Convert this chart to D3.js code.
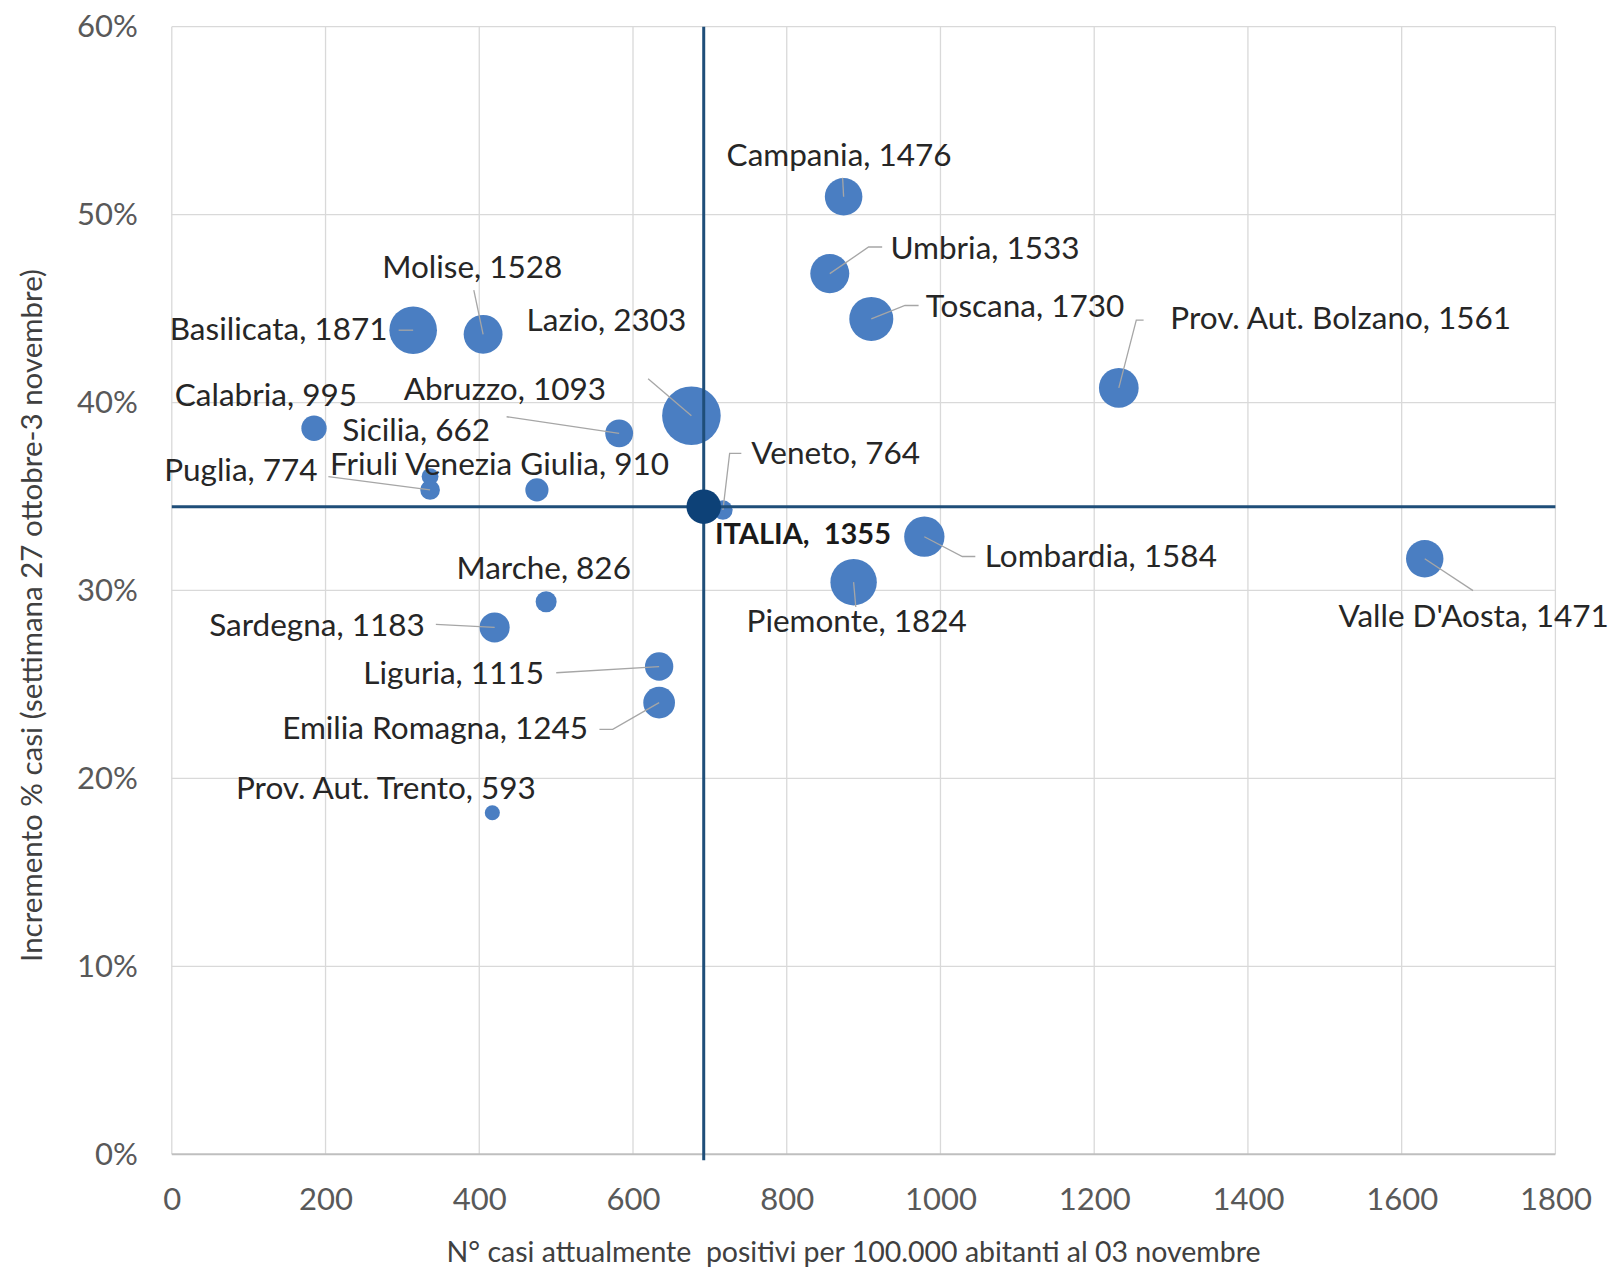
<!DOCTYPE html>
<html>
<head>
<meta charset="utf-8">
<script src="https://cdn.jsdelivr.net/npm/d3@7"></script>
<style>
  html, body { margin: 0; padding: 0; background: #ffffff; }
  svg { display: block; }
  text { font-family: Lato, "Open Sans", sans-serif; }
</style>
</head>
<body>
<svg id="chart" width="1613" height="1269"></svg>
<script>
// ---------------- DATA ----------------
const regions = [
  "Campania", "Umbria", "Toscana", "Prov. Aut. Bolzano", "Basilicata", "Molise",
  "Lazio", "Calabria", "Abruzzo", "Sicilia", "Puglia", "Friuli Venezia Giulia",
  "Veneto", "Lombardia", "Piemonte", "Valle D'Aosta", "Marche", "Sardegna",
  "Liguria", "Emilia Romagna", "Prov. Aut. Trento"
];
// N° casi attualmente positivi per 100.000 abitanti al 03 novembre
const positivesPer100k = [
  874, 856, 910, 1232, 314, 405,
  676, 185, 582, 336, 336, 475,
  717, 979, 887, 1630, 487, 420,
  634, 634, 417
];
// Incremento % casi (settimana 27 ottobre - 3 novembre)
const weeklyIncrease = [
  0.5095, 0.4686, 0.4445, 0.4078, 0.4385, 0.4363,
  0.3930, 0.3863, 0.3836, 0.3606, 0.3535, 0.3535,
  0.3428, 0.3286, 0.3044, 0.3169, 0.2940, 0.2803,
  0.2595, 0.2403, 0.1817
];
// bubble size values (shown in labels)
const bubbleSizes = [
  1476, 1533, 1730, 1561, 1871, 1528,
  2303, 995, 1093, 662, 774, 910,
  764, 1584, 1824, 1471, 826, 1183,
  1115, 1245, 593
];
const italyName = "ITALIA";
const italyX = 692;
const italyY = 0.3446;
const italySize = 1355;

const xTicks = [0, 200, 400, 600, 800, 1000, 1200, 1400, 1600, 1800];
const yTicks = [0, 0.1, 0.2, 0.3, 0.4, 0.5, 0.6];
const xTitle = "N° casi attualmente  positivi per 100.000 abitanti al 03 novembre";
const yTitle = "Incremento % casi (settimana 27 ottobre-3 novembre)";

// ---------------- LABEL LAYOUT (pixel offsets from bubble centre) ----------------
const labelLayout = {
  "Campania":              { anchor: "middle", dx: -4.5,  dy: -30.7, leader: [[-1, -19]] },
  "Umbria":                { anchor: "start",  dx: 60.6,  dy: -14.6, leader: [[52.4, -26.6], [38.8, -26.6]] },
  "Toscana":               { anchor: "start",  dx: 54.5,  dy: -2.1,  leader: [[47.3, -13.4], [33.7, -13.4]] },
  "Prov. Aut. Bolzano":    { anchor: "start",  dx: 51.5,  dy: -58.8, leader: [[24.8, -67.8], [17.5, -67.8]] },
  "Basilicata":            { anchor: "end",    dx: -25.7, dy: 10.3,  leader: [[-14.5, 0]] },
  "Molise":                { anchor: "middle", dx: -10.8, dy: -56.6, leader: [[-9.3, -44.3]] },
  "Lazio":                 { anchor: "middle", dx: -84.9, dy: -84.4, leader: [[-43.3, -37]] },
  "Calabria":              { anchor: "middle", dx: -48.1, dy: -22.3, leader: null },
  "Abruzzo":               { anchor: "middle", dx: -114.3, dy: -33.1, leader: [[-112.6, -16.6]] },
  "Sicilia":               { anchor: "middle", dx: -13.9, dy: -35.2, leader: null },
  "Puglia":                { anchor: "end",    dx: -112.5, dy: -9,   leader: [[-101.7, -13.3]] },
  "Friuli Venezia Giulia": { anchor: "middle", dx: -37.4, dy: -14.7, leader: null },
  "Veneto":                { anchor: "start",  dx: 28.4,  dy: -46.5, leader: [[18.4, -56.7], [6.7, -56.7]] },
  "Lombardia":             { anchor: "start",  dx: 60.5,  dy: 30.1,  leader: [[51, 19.8], [38, 19.8]] },
  "Piemonte":              { anchor: "middle", dx: 3.1,   dy: 49.4,  leader: [[2.2, 24.8]] },
  "Valle D'Aosta":         { anchor: "middle", dx: 48.9,  dy: 67.9,  leader: [[48.3, 31.9]] },
  "Marche":                { anchor: "middle", dx: -2.5,  dy: -22.8, leader: null },
  "Sardegna":              { anchor: "end",    dx: -69.9, dy: 8.2,   leader: [[-58.8, -3.1]] },
  "Liguria":               { anchor: "end",    dx: -115.2, dy: 17.4, leader: [[-102.9, 6.2]] },
  "Emilia Romagna":        { anchor: "end",    dx: -71,   dy: 36,    leader: [[-59.7, 26.8], [-46.4, 26.8]] },
  "Prov. Aut. Trento":     { anchor: "middle", dx: -106.4, dy: -13.4, leader: null }
};
const italyLabel = { anchor: "start", dx: 11.2, dy: 37.3 };

// ---------------- CHART ----------------
const plot = { left: 171.8, right: 1555.4, top: 26.7, bottom: 1154.2 };
const svg = d3.select("#chart");
svg.append("rect").attr("width", 1613).attr("height", 1269).attr("fill", "#ffffff");

const x = d3.scaleLinear().domain([0, 1800]).range([plot.left, plot.right]);
const y = d3.scaleLinear().domain([0, 0.6]).range([plot.bottom, plot.top]);
const r = d3.scaleLinear().domain([0, 2303]).range([0, 29.3]);

const data = regions.map((name, i) => ({
  name, xv: positivesPer100k[i], yv: weeklyIncrease[i], size: bubbleSizes[i]
}));

// gridlines
const grid = svg.append("g");
grid.selectAll("line.vg").data(xTicks).join("line")
  .attr("x1", d => x(d)).attr("x2", d => x(d))
  .attr("y1", plot.top).attr("y2", plot.bottom)
  .attr("stroke", "#d9d9d9").attr("stroke-width", 1.3);
grid.selectAll("line.hg").data(yTicks).join("line")
  .attr("x1", plot.left).attr("x2", plot.right)
  .attr("y1", d => y(d)).attr("y2", d => y(d))
  .attr("stroke", d => d === 0 ? "#bfbfbf" : "#d9d9d9")
  .attr("stroke-width", d => d === 0 ? 2 : 1.3);

// axes
const xAxis = svg.append("g")
  .attr("transform", `translate(0,${plot.bottom})`)
  .call(d3.axisBottom(x).tickValues(xTicks).tickSize(0).tickPadding(34).tickFormat(d3.format("d")));
xAxis.select(".domain").remove();
xAxis.selectAll("text").attr("font-size", 31).attr("fill", "#595959")
  .style("font-family", "Lato, 'Open Sans', sans-serif");

const yAxis = svg.append("g")
  .attr("transform", `translate(${plot.left},0)`)
  .call(d3.axisLeft(y).tickValues(yTicks).tickSize(0).tickPadding(34).tickFormat(d3.format(".0%")));
yAxis.select(".domain").remove();
yAxis.selectAll("text").attr("font-size", 31).attr("fill", "#595959")
  .style("font-family", "Lato, 'Open Sans', sans-serif");

// axis titles
svg.append("text")
  .attr("x", (plot.left + plot.right) / 2 - 10).attr("y", 1262)
  .attr("text-anchor", "middle").attr("font-size", 28.5).attr("fill", "#404040")
  .style("white-space", "pre")
  .text(xTitle);
svg.append("text")
  .attr("transform", `translate(42,${(plot.top + plot.bottom) / 2 + 25}) rotate(-90)`)
  .attr("text-anchor", "middle").attr("font-size", 29.5).attr("fill", "#404040")
  .text(yTitle);

// bubbles
const bubbleColor = "#4a7ec2";
svg.append("g").selectAll("circle").data(data).join("circle")
  .attr("cx", d => x(d.xv)).attr("cy", d => y(d.yv))
  .attr("r", d => r(d.size))
  .attr("fill", bubbleColor);

// leader lines
svg.append("g").selectAll("polyline")
  .data(data.filter(d => labelLayout[d.name].leader))
  .join("polyline")
  .attr("points", d => {
    const cx = x(d.xv), cy = y(d.yv);
    const pts = labelLayout[d.name].leader.map(p => [cx + p[0], cy + p[1]]);
    pts.push([cx, cy]);
    return pts.map(p => p.join(",")).join(" ");
  })
  .attr("fill", "none").attr("stroke", "#a6a6a6").attr("stroke-width", 1.3);

// reference lines through Italy
svg.append("line")
  .attr("x1", plot.left).attr("x2", plot.right)
  .attr("y1", y(italyY)).attr("y2", y(italyY))
  .attr("stroke", "#1f4e79").attr("stroke-width", 3);
svg.append("line")
  .attr("x1", x(italyX)).attr("x2", x(italyX))
  .attr("y1", plot.top).attr("y2", plot.bottom + 6)
  .attr("stroke", "#1f4e79").attr("stroke-width", 3);

// Italy bubble
svg.append("circle")
  .attr("cx", x(italyX)).attr("cy", y(italyY)).attr("r", r(italySize))
  .attr("fill", "#0d4177");

// labels
svg.append("g").selectAll("text").data(data).join("text")
  .attr("x", d => x(d.xv) + labelLayout[d.name].dx)
  .attr("y", d => y(d.yv) + labelLayout[d.name].dy)
  .attr("text-anchor", d => labelLayout[d.name].anchor)
  .attr("font-size", 31.5).attr("fill", "#262626")
  .text(d => `${d.name}, ${d.size}`);

svg.append("text")
  .attr("x", x(italyX) + italyLabel.dx).attr("y", y(italyY) + italyLabel.dy)
  .attr("text-anchor", italyLabel.anchor)
  .attr("font-size", 29).attr("font-weight", "bold").attr("fill", "#1a1a1a")
  .style("white-space", "pre")
  .text(`${italyName},  ${italySize}`);
</script>
</body>
</html>
